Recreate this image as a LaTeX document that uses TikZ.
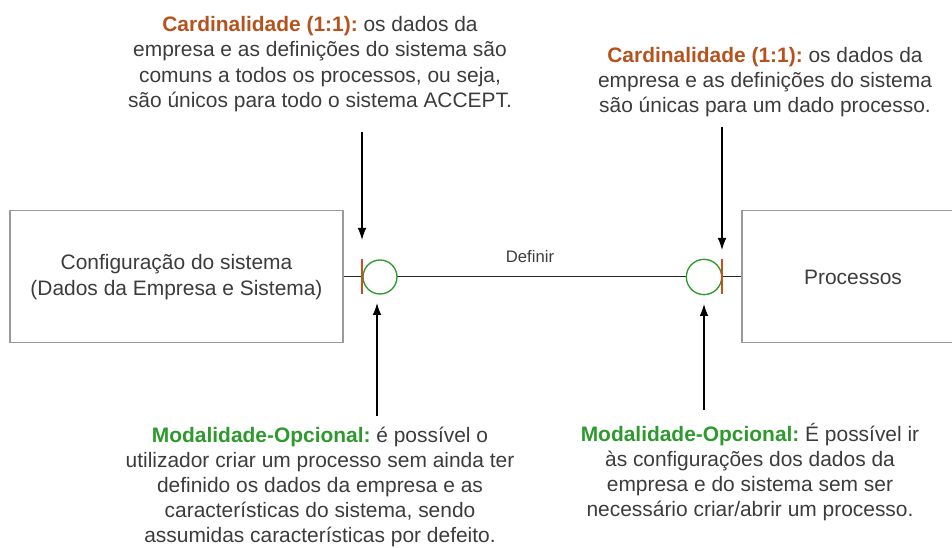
\documentclass[tikz,border=0pt]{standalone}
\usepackage{fontspec}
\setmainfont{Liberation Sans}
\usetikzlibrary{arrows.meta}
\frenchspacing
\definecolor{txt}{HTML}{3C3C3C}
\definecolor{card}{HTML}{B5531F}
\definecolor{moda}{HTML}{2E9A2E}
\definecolor{boxc}{HTML}{9A9A9A}
\definecolor{tick}{HTML}{C8501E}
\tikzset{
  entity/.style={draw=boxc, line width=1.2pt, fill=white, inner sep=0pt},
  note/.style={align=center, text=txt, font=\fontsize{15.7}{18.9}\selectfont\frenchspacing, inner sep=0pt},
  lbl/.style={text=txt, font=\fontsize{12.5}{14}\selectfont, inner sep=0pt},
  opt/.style={circle, draw=moda, line width=1pt, fill=white, inner sep=0pt},
  arr/.style={line width=0.9pt, black, -{Latex[length=9pt,width=6.5pt]}},
  tk/.style={tick, line width=1pt},
  rel/.style={line width=1pt, black!85}
}
\begin{document}
\begin{tikzpicture}[x=0.75pt,y=-0.75pt]
\useasboundingbox (0,0) rectangle (952,548);
\clip (0,0) rectangle (952,548);
% boxes
\node[entity, minimum width=249.75pt, minimum height=99pt] (conf) at (176.5,276.5) {};
\node[note] (conft) at (176.5,277) {Configuração do sistema\\(Dados da Empresa e Sistema)};
\node[entity, minimum width=166.5pt, minimum height=99pt] (proc) at (853,276.5) {};
\node[note] (proct) at (853,277) {Processos};
% relation line
\draw[rel] (conf.east) -- (proc.west);
\node[lbl] (def) at (530,257) {Definir};
% optional circles
\node[opt, minimum size=25.5pt] (c1) at (380,277) {};
\node[opt, minimum size=26.5pt] (c2) at (704,277) {};
% ticks
\coordinate (t1a) at (362,259); \coordinate (t1b) at (362,294);
\coordinate (t2a) at (722,259); \coordinate (t2b) at (722,294);
\draw[tk] (t1a) -- (t1b);
\draw[tk] (t2a) -- (t2b);
% notes
\node[note] (n1) at (320,64) {\textbf{\color{card}Cardinalidade (1:1):} os dados da\\empresa e as definições do sistema são\\comuns a todos os processos, ou seja,\\são únicos para todo o sistema ACCEPT.};
\node[note] (n2) at (765,82) {\textbf{\color{card}Cardinalidade (1:1):} os dados da\\empresa e as definições do sistema\\são únicas para um dado processo.};
\node[note] (n3) at (320,487) {\textbf{\color{moda}Modalidade-Opcional:} é possível o\\utilizador criar um processo sem ainda ter\\definido os dados da empresa e as\\características do sistema, sendo\\assumidas características por defeito.};
\node[note] (n4) at (750,472) {\textbf{\color{moda}Modalidade-Opcional:} É possível ir\\às configurações dos dados da\\empresa e do sistema sem ser\\necessário criar/abrir um processo.};
% arrows
\coordinate (a1s) at (362,132); \coordinate (a1e) at (362,240);
\coordinate (a2s) at (722,127); \coordinate (a2e) at (722,250);
\coordinate (a3s) at (377,416); \coordinate (a3e) at (377,303);
\coordinate (a4s) at (704,410); \coordinate (a4e) at (704,304);
\draw[arr] (a1s) -- (a1e);
\draw[arr] (a2s) -- (a2e);
\draw[arr] (a3s) -- (a3e);
\draw[arr] (a4s) -- (a4e);
\end{tikzpicture}
\end{document}
